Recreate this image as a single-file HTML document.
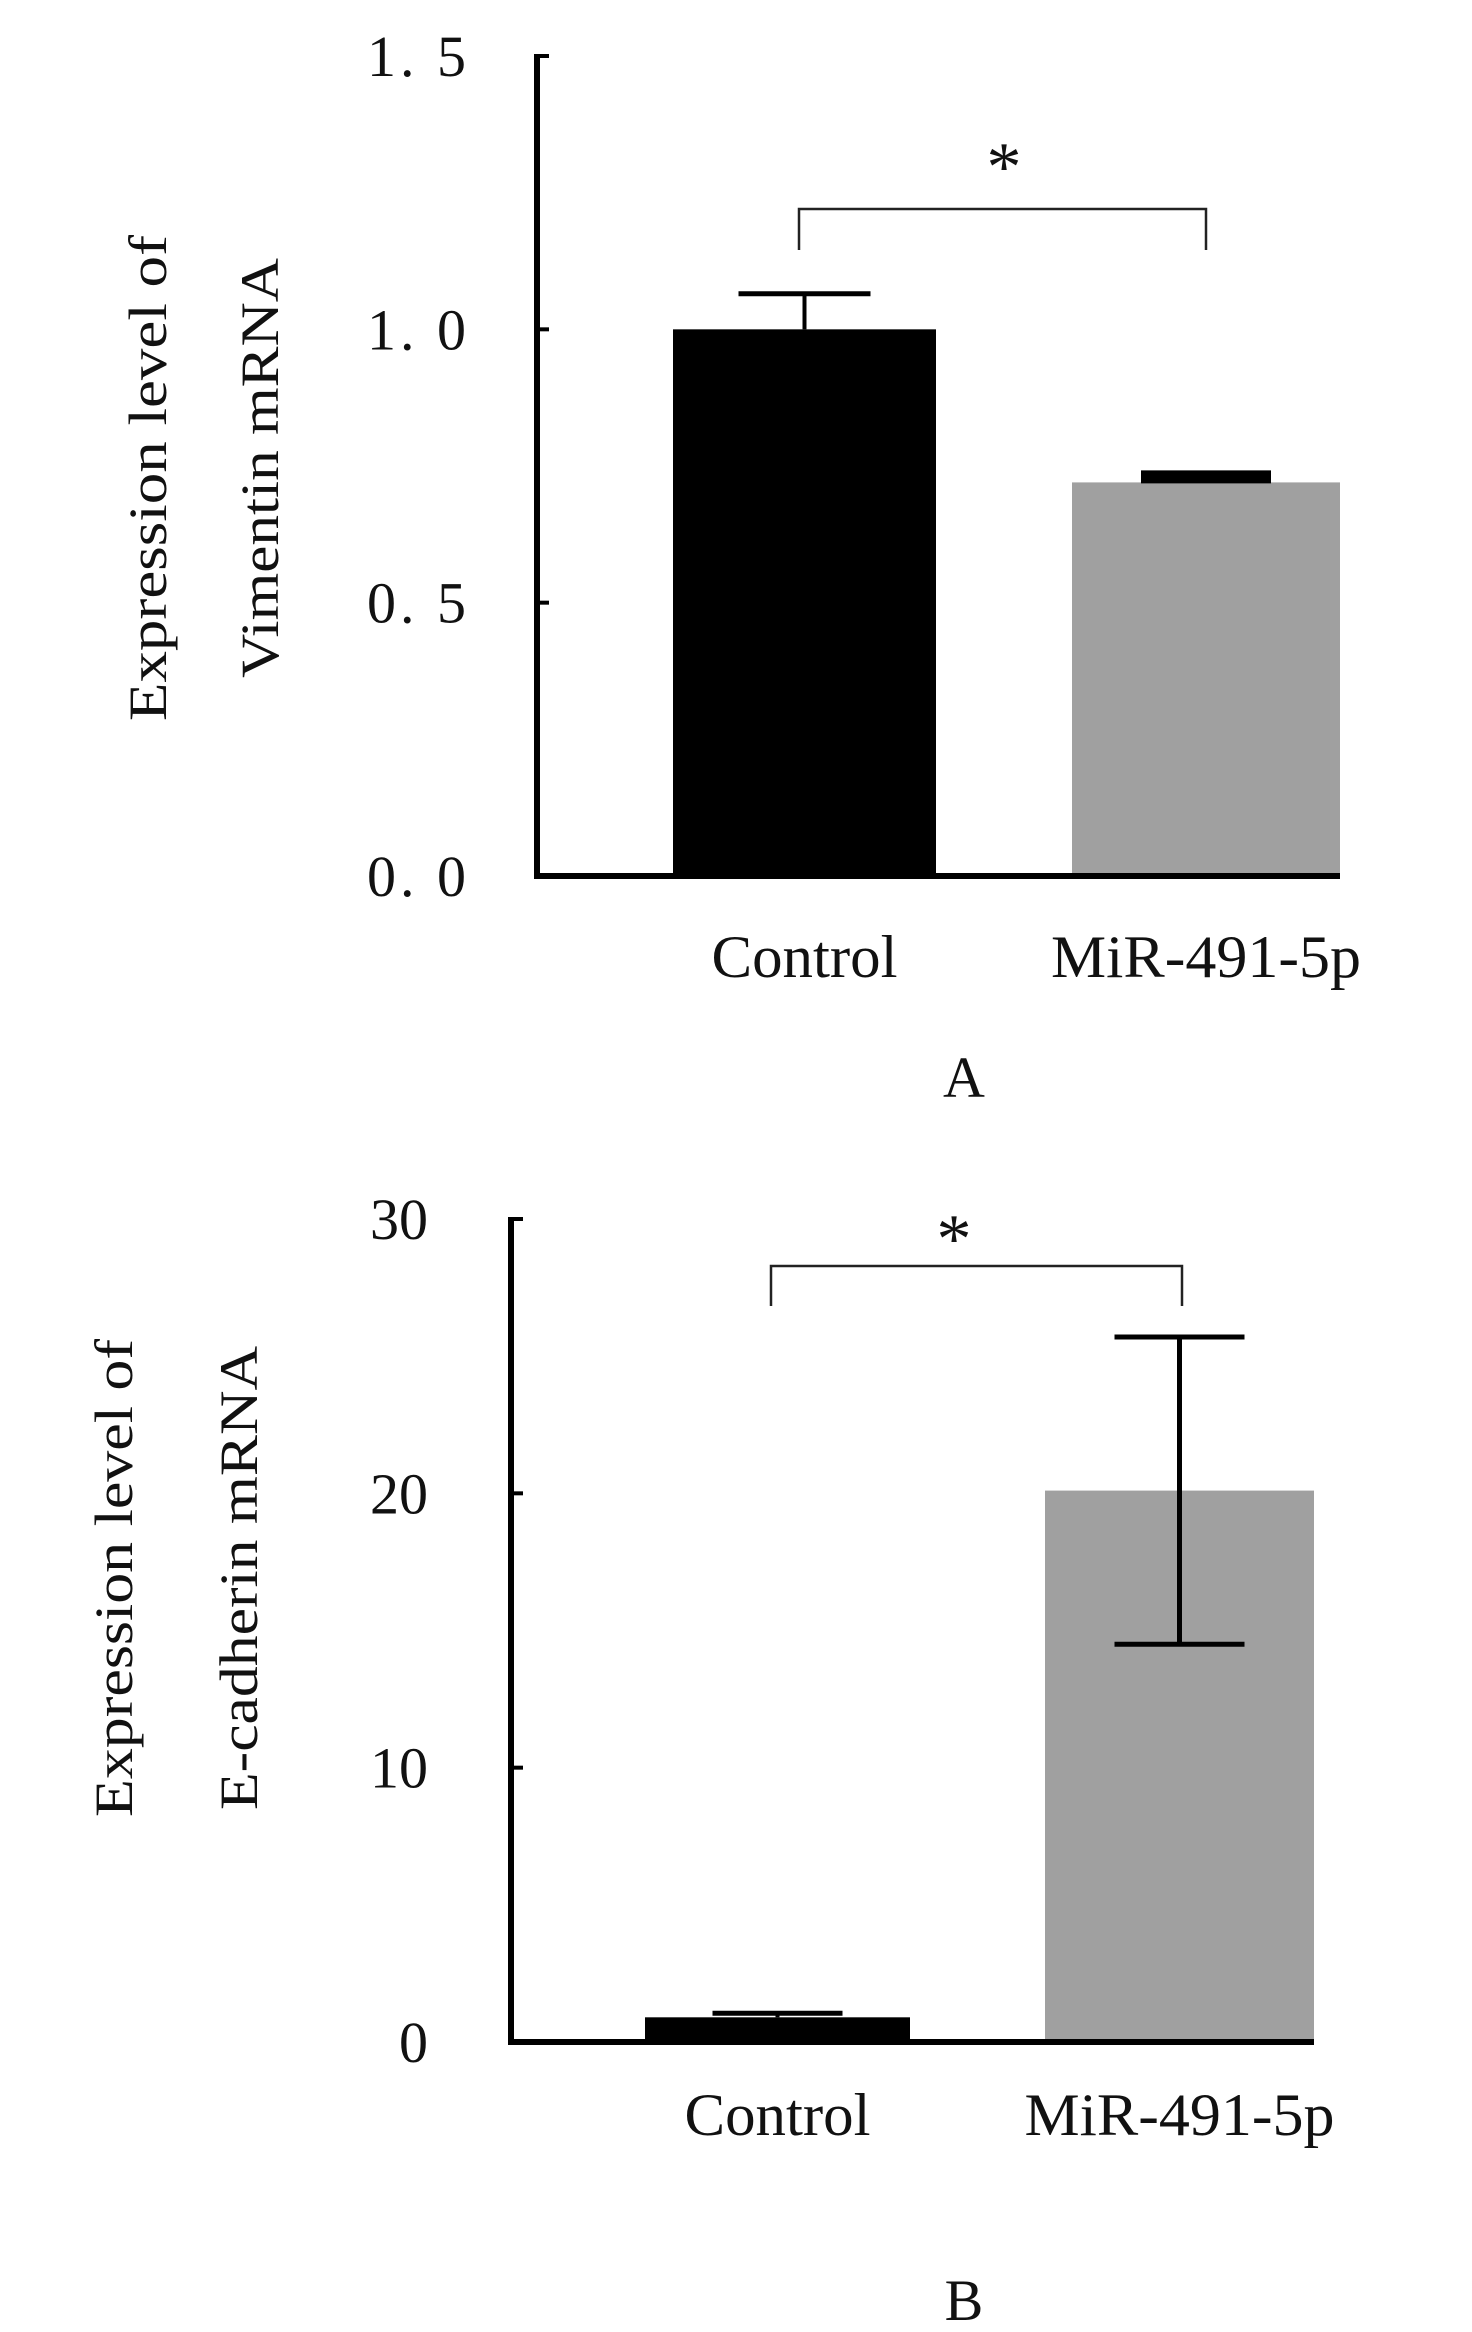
<!DOCTYPE html>
<html><head><meta charset="utf-8"><style>
html,body{margin:0;padding:0;background:#fff}
svg{display:block}
text{font-family:"Liberation Serif","Noto Serif CJK SC",serif;fill:#111}
</style></head><body>
<svg id="fig" width="1472" height="2332" viewBox="0 0 1472 2332" xmlns="http://www.w3.org/2000/svg"></svg>
<script>
// Panel A data
const catsA = ["Control", "MiR-491-5p"];
const valsA = [1.0, 0.72];
const errA = [0.065, 0.01];
const ticksA = [0, 0.5, 1.0, 1.5];
const tickLabelsA = ["0. 0", "0. 5", "1. 0", "1. 5"];
// Panel B data
const catsB = ["Control", "MiR-491-5p"];
const valsB = [0.9, 20.1];
const errB = [0.15, 5.6];
const ticksB = [0, 10, 20, 30];
const tickLabelsB = ["0", "10", "20", "30"];

const NS = "http://www.w3.org/2000/svg";
const svg = document.getElementById('fig');
function mk(tag, attrs, parent, txt){
  const e = document.createElementNS(NS, tag);
  for (const k in attrs) e.setAttribute(k, attrs[k]);
  if (txt !== undefined) e.textContent = txt;
  (parent || svg).appendChild(e);
  return e;
}

function panel(cfg){
  const g = mk('g', {});
  
  
  const y = v => cfg.y0 - (v - 0) / cfg.max * (cfg.y0 - cfg.yTop);
  cfg.vals.forEach((v, i) => {
    const b = cfg.bars[i];
    const r = mk('rect', {x: b[0], y: y(v), width: b[1]-b[0], height: cfg.y0 - y(v), fill: cfg.colors[i]}, g);
    
    
    const cx = (b[0]+b[1])/2;
    const e = cfg.errs[i];
    const eg = mk('g', {stroke:'#000', 'stroke-width': cfg.errW[i]}, g);
    
    
    const lowV = cfg.showLow[i] ? v - e : v;
    mk('line', {x1: cx, x2: cx, y1: y(v+e), y2: y(lowV)}, eg);
    mk('line', {x1: cx - cfg.capW[i]/2, x2: cx + cfg.capW[i]/2, y1: y(v+e), y2: y(v+e), 'stroke-width': cfg.capT[i]}, eg);
    if (cfg.showLow[i]) mk('line', {x1: cx - cfg.capW[i]/2, x2: cx + cfg.capW[i]/2, y1: y(v-e), y2: y(v-e)}, eg);
    const lab = mk('text', {x: cx, y: cfg.catY, 'font-size': 60, 'text-anchor':'middle', textLength: cfg.catLen[i], lengthAdjust:'spacingAndGlyphs'}, g, cfg.cats[i]);
    
    
  });
  const ax = mk('g', {stroke:'#000'}, g);
  
  
  mk('line', {x1: cfg.ax, x2: cfg.ax, y1: cfg.yTop - 2, y2: cfg.y0 + 3, 'stroke-width': 6}, ax);
  mk('line', {x1: cfg.ax - 3, x2: cfg.axEnd, y1: cfg.y0, y2: cfg.y0, 'stroke-width': 6}, ax);
  cfg.ticks.forEach((t, i) => {
    mk('line', {x1: cfg.ax, x2: cfg.ax + 12, y1: y(t), y2: y(t), 'stroke-width': 4}, ax);
    const tl = mk('text', {x: cfg.tickX, y: y(t) + 20, 'font-size': 58, 'text-anchor':'end', 'letter-spacing': cfg.tickLS}, g, cfg.tickLabels[i]);
    
    
  });
  const br = mk('path', {d: `M${cfg.br[0]} ${cfg.br[3]} V${cfg.br[2]} H${cfg.br[1]} V${cfg.br[3]}`, fill:'none', stroke:'#222', 'stroke-width': 2.5}, g);
  
  
  const st = mk('text', {x: cfg.star[0], y: cfg.star[1], 'font-size': 70, 'text-anchor':'middle'}, g, '*');
  
  
  cfg.titles.forEach((tt, i) => {
    const t = mk('text', {x: 0, y: 0, 'font-size': 54, 'text-anchor':'middle', textLength: tt[3], lengthAdjust:'spacingAndGlyphs', transform: `translate(${tt[1]},${tt[2]}) rotate(-90)`}, g, tt[0]);
    
    
  });
  const pl = mk('text', {x: cfg.letter[1], y: cfg.letter[2], 'font-size': 58, 'text-anchor':'middle'}, g, cfg.letter[0]);
  
  
}

panel({name:'panel-a', cats: catsA, vals: valsA, errs: errA, ticks: ticksA, tickLabels: tickLabelsA,
  max: 1.5, y0: 876, yTop: 56, ax: 537, axEnd: 1340, tickX: 470, tickLS: 4,
  bars: [[673,936],[1072,1340]], colors: ['#000','#a0a0a0'],
  errW: [4, 4], capW: [132, 130], capT: [5, 13], showLow: [false, false],
  catY: 977, catLen: [186, 310],
  br: [799, 1206, 209, 250], star: [1004, 190],
  titles: [["Expression level of", 166, 478, 486], ["Vimentin mRNA", 278, 468, 420]],
  letter: ['A', 964, 1097]});

panel({name:'panel-b', cats: catsB, vals: valsB, errs: errB, ticks: ticksB, tickLabels: tickLabelsB,
  max: 30, y0: 2042, yTop: 1219, ax: 511, axEnd: 1314, tickX: 428, tickLS: 0,
  bars: [[645,910],[1045,1314]], colors: ['#000','#a0a0a0'],
  errW: [4, 5], capW: [130, 130], capT: [5, 5], showLow: [false, true],
  catY: 2135, catLen: [186, 310],
  br: [771, 1182, 1266, 1306], star: [954, 1262],
  titles: [["Expression level of", 132, 1578, 478], ["E-cadherin mRNA", 257, 1578, 464]],
  letter: ['B', 964, 2320]});
</script>
</body></html>
